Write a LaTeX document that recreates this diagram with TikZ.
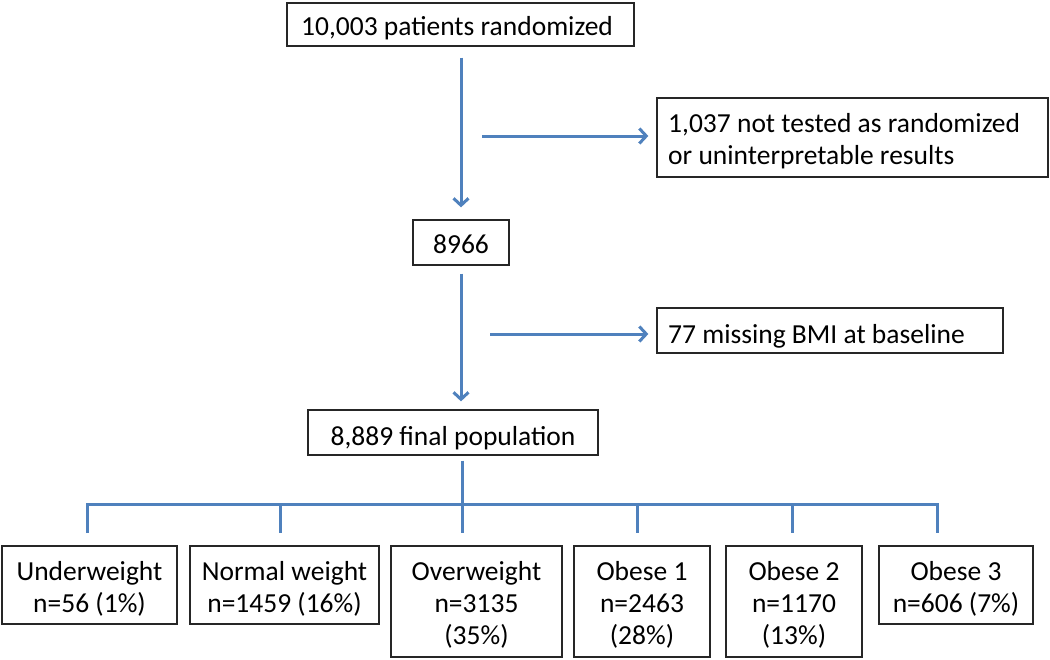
\documentclass[tikz,border=0pt]{standalone}
\usepackage{fontspec}
\setmainfont{Carlito}
\usetikzlibrary{arrows.meta,shadows}
\definecolor{flowblue}{RGB}{79,129,189}
\begin{document}
\begin{tikzpicture}[x=1pt,y=-1pt,
  box/.style={draw=black!85, line width=1.3pt, fill=white, inner sep=0pt,
    drop shadow={shadow xshift=1.2pt,shadow yshift=-1.2pt,opacity=0.3,fill=black}},
  txt/.style={inner sep=0pt, font=\fontsize{27.5}{32}\selectfont},
  link/.style={draw=flowblue, line width=3pt},
  arr/.style={link, -{Straight Barb[length=7pt,width=15pt]}}]
\useasboundingbox (0,0) rectangle (1050,659);

% boxes
\node[box, minimum width=347pt, minimum height=43pt] (b1) at (460.5,24.5) {};
\node[box, minimum width=96pt,  minimum height=45pt] (b2) at (461,242.5) {};
\node[box, minimum width=391pt, minimum height=79pt] (b3) at (852.5,137.5) {};
\node[box, minimum width=346pt, minimum height=45pt] (b4) at (830,330.5) {};
\node[box, minimum width=290pt, minimum height=45pt] (b5) at (453,432.5) {};
\node[box, minimum width=175pt, minimum height=78pt]  (c1) at (89.5,585) {};
\node[box, minimum width=189pt, minimum height=78pt]  (c2) at (284.5,585) {};
\node[box, minimum width=171pt, minimum height=111pt] (c3) at (476.5,601.5) {};
\node[box, minimum width=136pt, minimum height=111pt] (c4) at (642,601.5) {};
\node[box, minimum width=136pt, minimum height=111pt] (c5) at (794,601.5) {};
\node[box, minimum width=154pt, minimum height=78pt]  (c6) at (956,585) {};

% texts
\node[txt, anchor=base] (b1t) at (457,35) {10,003 patients randomized};
\node[txt, anchor=base] (b2t) at (461,253) {8966};
\node[txt, anchor=base west] (b3t) at (668,132) {\begin{tabular}[t]{@{}l@{}}1,037 not tested as randomized\\or uninterpretable results\end{tabular}};
\node[txt, anchor=base west] (b4t) at (668,343) {77 missing BMI at baseline};
\node[txt, anchor=base] (b5t) at (453,445) {8,889 final population};
\node[txt, anchor=base] (c1t) at (89.5,580) {\begin{tabular}[t]{@{}c@{}}Underweight\\n=56 (1\%)\end{tabular}};
\node[txt, anchor=base] (c2t) at (284.5,580) {\begin{tabular}[t]{@{}c@{}}Normal weight\\n=1459 (16\%)\end{tabular}};
\node[txt, anchor=base] (c3t) at (476.5,580) {\begin{tabular}[t]{@{}c@{}}Overweight\\n=3135\\(35\%)\end{tabular}};
\node[txt, anchor=base] (c4t) at (642,580) {\begin{tabular}[t]{@{}c@{}}Obese 1\\n=2463\\(28\%)\end{tabular}};
\node[txt, anchor=base] (c5t) at (794,580) {\begin{tabular}[t]{@{}c@{}}Obese 2\\n=1170\\(13\%)\end{tabular}};
\node[txt, anchor=base] (c6t) at (956,580) {\begin{tabular}[t]{@{}c@{}}Obese 3\\n=606 (7\%)\end{tabular}};

% main arrows
\draw[arr, shorten <=11pt, shorten >=12pt] (b1.south -| b2.north) -- (b2.north);
\draw[arr, shorten <=8pt, shorten >=8pt] (b2.south) -- (b2.south |- b5.north);

% side arrows
\coordinate (s1) at (482,136);
\coordinate (s2) at (490,334);
\draw[arr, shorten >=8pt] (s1) -- (s1 -| b3.west);
\draw[arr, shorten >=8pt] (s2) -- (s2 -| b4.west);

% tree
\coordinate (d1) at (87,504);
\coordinate (d2) at (280,504);
\coordinate (d3) at (462,504);
\coordinate (d4) at (637,504);
\coordinate (d5) at (792,504);
\coordinate (d6) at (937,504);
\coordinate (e1) at (87,533);
\coordinate (e2) at (280,533);
\coordinate (e3) at (462,533);
\coordinate (e4) at (637,533);
\coordinate (e5) at (792,533);
\coordinate (e6) at (937,533);
\draw[link, shorten <=5pt] (d3 |- b5.south) -- (d3);
\draw[link] (e1) -- (d1) -- (d6) -- (e6);
\draw[link] (d2) -- (e2);
\draw[link] (d3) -- (e3);
\draw[link] (d4) -- (e4);
\draw[link] (d5) -- (e5);
\end{tikzpicture}
\end{document}
